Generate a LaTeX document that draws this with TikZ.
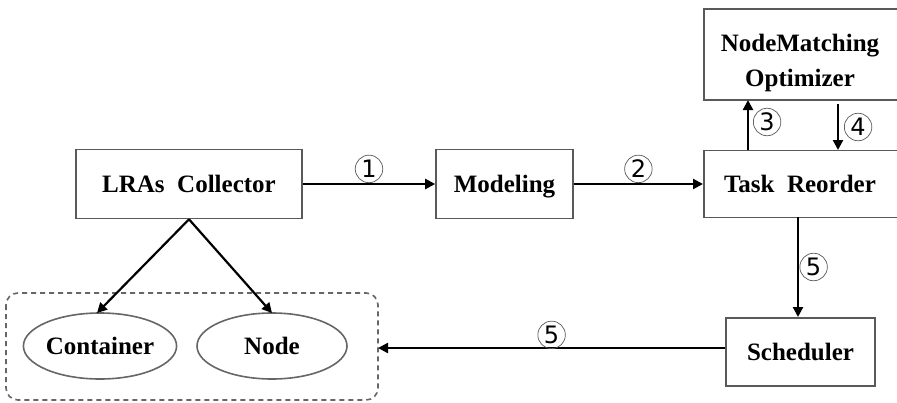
\documentclass[tikz,border=0pt]{standalone}
\usepackage{fontspec}
\setmainfont{Liberation Serif}
\newfontfamily\circfont{DejaVu Sans}
\usetikzlibrary{arrows.meta,shapes.geometric}
\begin{document}
\begin{tikzpicture}[x=1pt,y=-1pt,
  box/.style={draw=black!65,line width=1.6pt,fill=white,inner sep=0pt,text height=17pt,text depth=0pt,font=\fontsize{25}{35}\selectfont\bfseries},
  lbl/.style={font=\fontsize{25}{35}\selectfont\bfseries,align=center},
  oval/.style={draw=black!60,line width=1.6pt,ellipse,inner sep=0pt,font=\fontsize{25}{30}\selectfont\bfseries},
  arr/.style={line width=2.2pt,-{Triangle[length=10pt,width=10pt]}},
  num/.style={draw=black!65,line width=0.7pt,circle,minimum size=27.5pt,inner sep=0pt,font=\circfont\fontsize{24}{24}\selectfont}]
\useasboundingbox (0,0) rectangle (897,402);
\clip (0,0) rectangle (897,402);
\fill[white] (0,0) rectangle (897,402);
% boxes
\node[box,minimum width=226pt,minimum height=69pt] (lra) at (189,184) {LRAs\ \ Collector};
\node[box,minimum width=137pt,minimum height=69pt] (mod) at (504.5,184) {Modeling};
\node[box,minimum width=200pt,minimum height=67pt,anchor=west] (tr) at (703,184) {};
\node[lbl,text height=17pt,text depth=0pt,inner sep=0pt] (trl) at (800,184) {Task\ \ Reorder};
\node[box,minimum width=200pt,minimum height=91pt,anchor=west] (nm) at (703,54.5) {};
\node[lbl] (nml) at (800,63) {NodeMatching\\Optimizer};
\node[box,minimum width=149pt,minimum height=68pt] (sch) at (800.5,352) {Scheduler};
% dashed group
\draw[draw=black!60,line width=1.6pt,dash pattern=on 5pt off 4pt,rounded corners=12pt] (6,293) rectangle (378,400);
\coordinate (grp) at (378,348);
\node[oval,minimum width=148pt,minimum height=66pt] (con) at (100,346) {Container};
\node[oval,minimum width=150pt,minimum height=66pt] (nd) at (272,346) {Node};
% connector end points
\coordinate (a3s) at (748,150);
\coordinate (a3e) at (748,100);
\coordinate (a4s) at (838,104);
\coordinate (a4e) at (838,150);
\coordinate (a5s) at (798,217);
\coordinate (a5e) at (798,317);
\coordinate (cTop) at (97,313);
\coordinate (nTop) at (272,313);
% arrows
\draw[arr] (lra.east) -- (mod.west) node[num,midway,above=1pt] {1};
\draw[arr] (mod.east) -- (tr.west |- mod.east) node[num,midway,above=1pt] {2};
\draw[arr] (a3s) -- (a3e) node[num,pos=0.56,right=5pt] {3};
\draw[arr] (a4s) -- (a4e) node[num,pos=0.5,right=6pt] {4};
\draw[arr] (a5s) -- (a5e) node[num,pos=0.5,right=1.5pt] {5};
\draw[arr] (grp -| sch.west) -- (grp) node[num,pos=0.5,above=-1pt] {5};
\draw[arr] (lra.south) -- (cTop);
\draw[arr] (lra.south) -- (nTop);
\end{tikzpicture}
\end{document}
